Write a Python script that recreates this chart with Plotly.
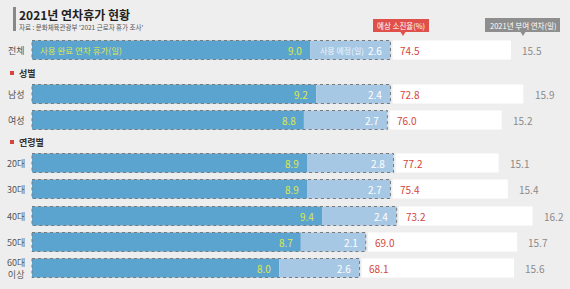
import plotly.graph_objects as go

# ---- data ----
categories = ["전체", "남성", "여성", "20대", "30대", "40대", "50대", "60대<br>이상"]
used = [9.0, 9.2, 8.8, 8.9, 8.9, 9.4, 8.7, 8.0]
planned = [2.6, 2.4, 2.7, 2.8, 2.7, 2.4, 2.1, 2.6]
rate = [74.5, 72.8, 76.0, 77.2, 75.4, 73.2, 69.0, 68.1]
total = [15.5, 15.9, 15.2, 15.1, 15.4, 16.2, 15.7, 15.6]
groups = ["성별", "연령별"]

# ---- layout constants (pixels) ----
W, H = 570, 289
X0 = 32.0          # pixel where value 0 sits
S = 30.9           # pixels per day
row_y = [50, 94, 120, 163, 189, 216, 242, 268]
group_y = [73, 142]
BAR_H = 19
GAP = 0.07

C_DARK = "#5ba4d0"
C_LIGHT = "#a7c8e4"
C_BG = "#efeeee"
C_RED = "#d5453d"
C_GRAY = "#8a8a8a"
C_YEL = "#dde84a"
FONT = "Noto Sans CJK KR"

def px(x):
    return x / W

def dx(p):
    return (p - X0) / S

fig = go.Figure()
fig.add_trace(go.Bar(y=row_y, x=used, base=[0]*len(used), orientation="h",
                     marker=dict(color=C_DARK, line=dict(width=0)), width=BAR_H,
                     hoverinfo="skip"))
fig.add_trace(go.Bar(y=row_y, x=planned, base=used, orientation="h",
                     marker=dict(color=C_LIGHT, line=dict(width=0)), width=BAR_H,
                     hoverinfo="skip"))
rem_base = [u + p + GAP for u, p in zip(used, planned)]
rem = [t - b for t, b in zip(total, rem_base)]
fig.add_trace(go.Bar(y=row_y, x=rem, base=rem_base, orientation="h",
                     marker=dict(color="white", line=dict(width=0)), width=BAR_H,
                     hoverinfo="skip"))

shapes = []
ann = []
for i, y in enumerate(row_y):
    u, p, r, t = used[i], planned[i], rate[i], total[i]
    shapes.append(dict(type="rect", xref="x", yref="y", x0=0, x1=u + p,
                       y0=y - BAR_H / 2, y1=y + BAR_H / 2,
                       line=dict(color="#7a7a7a", width=1, dash="dot"), layer="above"))
    ann.append(dict(x=u - 0.2, y=y, xref="x", yref="y", text=f"{u:.1f}", showarrow=False,
                    xanchor="right", font=dict(color=C_YEL, size=10, family=FONT)))
    ann.append(dict(x=u + p - 0.2, y=y, xref="x", yref="y", text=f"{p:.1f}", showarrow=False,
                    xanchor="right", font=dict(color="white", size=10, family=FONT)))
    ann.append(dict(x=u + p + GAP + 0.18, y=y, xref="x", yref="y", text=f"{r:.1f}", showarrow=False,
                    xanchor="left", font=dict(color=C_RED, size=10, family=FONT)))
    ann.append(dict(x=t + 0.3, y=y, xref="x", yref="y", text=f"{t:.1f}", showarrow=False,
                    xanchor="left", font=dict(color=C_GRAY, size=10, family=FONT)))
    ann.append(dict(x=px(27), y=y, xref="paper", yref="y", text=categories[i], showarrow=False,
                    xanchor="right", align="center",
                    font=dict(color="#555", size=9, family=FONT)))

# in-bar legend text on first row
ann.append(dict(x=0.2, y=row_y[0], xref="x", yref="y", text="사용 완료 연차 휴가(일)", showarrow=False,
                xanchor="left", font=dict(color=C_YEL, size=8.5, family=FONT)))
ann.append(dict(x=used[0] + 0.25, y=row_y[0], xref="x", yref="y", text="사용 예정(일)", showarrow=False,
                xanchor="left", font=dict(color="#eef4fa", size=8, family=FONT)))

# group headers
for g, gy in zip(groups, group_y):
    shapes.append(dict(type="rect", xref="paper", yref="y", x0=px(10), x1=px(14),
                       y0=gy - 2, y1=gy + 2, fillcolor=C_RED, line=dict(width=0)))
    ann.append(dict(x=px(17), y=gy, xref="paper", yref="y", text=f"<b>{g}</b>", showarrow=False,
                    xanchor="left", font=dict(color="#333", size=9, family=FONT)))

# title
shapes.append(dict(type="rect", xref="paper", yref="y", x0=px(13), x1=px(16), y0=7, y1=31,
                   fillcolor="#888", line=dict(width=0)))
ann.append(dict(x=px(18), y=14, xref="paper", yref="y", text="<b>2021년 연차휴가 현황</b>",
                showarrow=False, xanchor="left", borderpad=0,
                font=dict(color="#222", size=12, family=FONT)))
ann.append(dict(x=px(18), y=26.5, xref="paper", yref="y", text="자료 : 문화체육관광부 '2021 근로자 휴가 조사'",
                showarrow=False, xanchor="left", borderpad=0,
                font=dict(color="#555", size=6.5, family=FONT)))

# callouts (data-x coordinates)
def callout(x0, x1, y0, y1, tip, color, text):
    shapes.append(dict(type="rect", xref="x", yref="y", x0=dx(x0), x1=dx(x1), y0=y0, y1=y1,
                       fillcolor=color, line=dict(width=0)))
    path = f"M {dx(tip - 2.5)} {y1} L {dx(tip)} {y1 + 4} L {dx(tip + 2.5)} {y1} Z"
    shapes.append(dict(type="path", xref="x", yref="y", path=path, fillcolor=color,
                       line=dict(width=0)))
    ann.append(dict(x=dx((x0 + x1) / 2), y=(y0 + y1) / 2, xref="x", yref="y", text=text,
                    showarrow=False, borderpad=0,
                    font=dict(color="white", size=7.5, family=FONT)))

callout(373, 429, 19, 32, 403, "#e0504a", "예상 소진율(%)")
callout(485, 560, 18, 32, 523, "#8e8e8e", "2021년 부여 연차(일)")

fig.update_layout(
    width=W, height=H, margin=dict(l=0, r=0, t=0, b=0),
    paper_bgcolor=C_BG, plot_bgcolor=C_BG, barmode="overlay", showlegend=False,
    xaxis=dict(range=[-X0 / S, (W - X0) / S], visible=False, fixedrange=True),
    yaxis=dict(range=[H, 0], visible=False, fixedrange=True),
    shapes=shapes, annotations=ann, font=dict(family=FONT),
)
fig.write_html("out.html")
